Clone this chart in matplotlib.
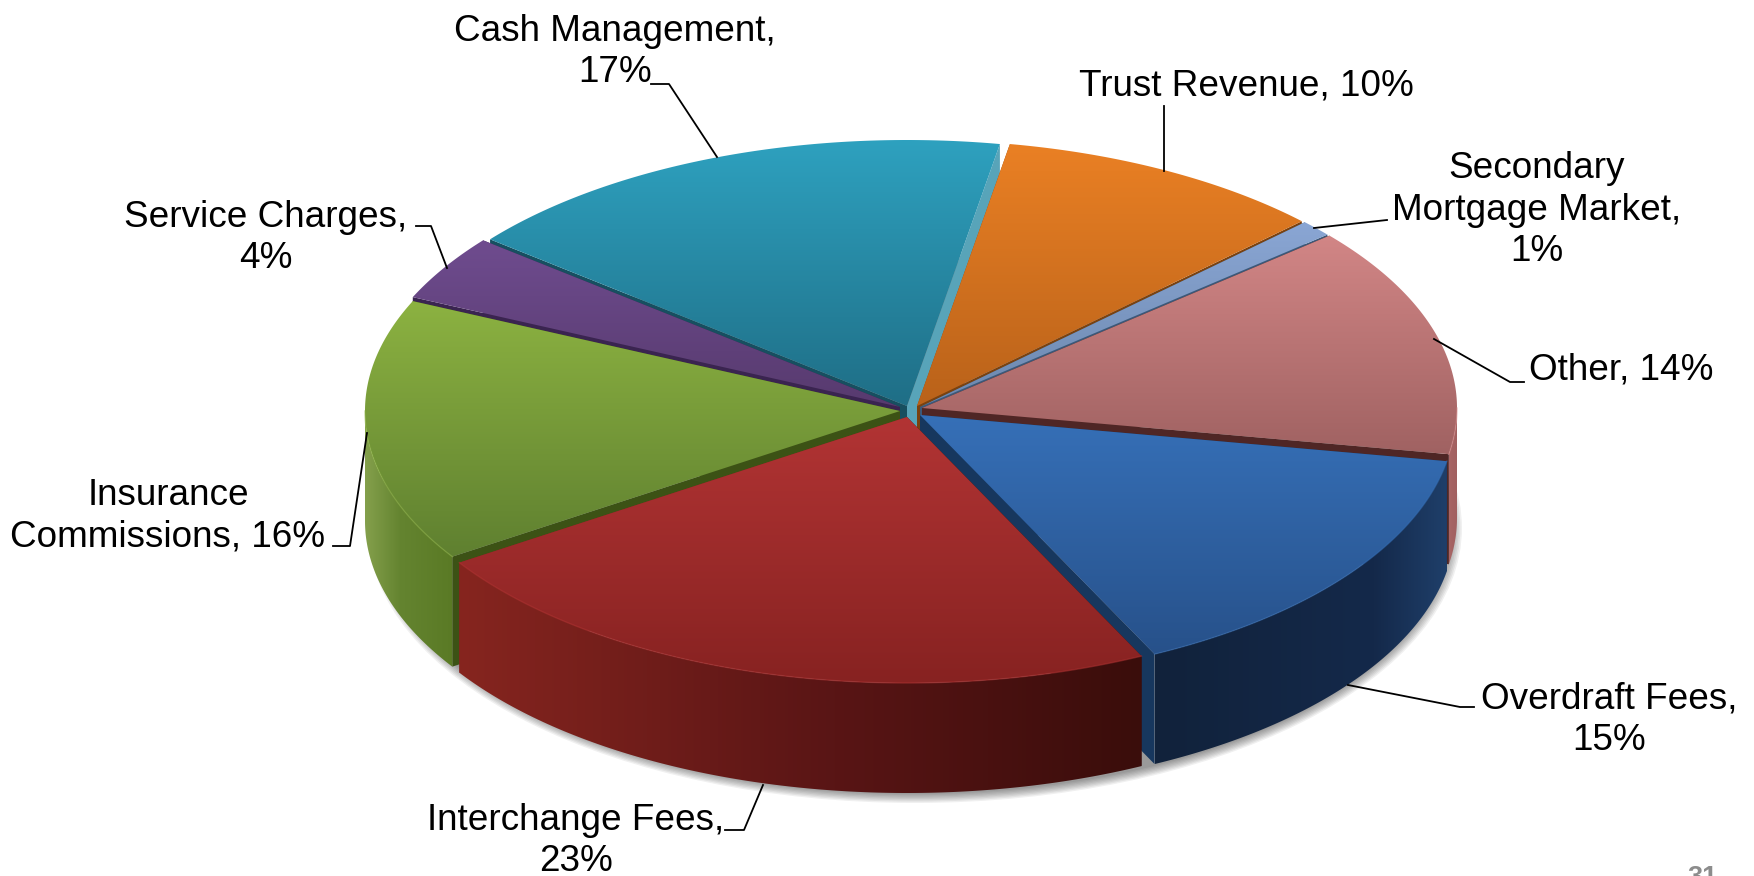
import numpy as np
import matplotlib
matplotlib.use('Agg')
import matplotlib.pyplot as plt
from matplotlib.colors import to_rgb
from matplotlib.patches import Polygon, Ellipse

plt.rcParams['font.family'] = ['Liberation Sans', 'DejaVu Sans']

# data, clockwise from the first cut near the top of the pie
names = ['Trust Revenue', 'Secondary Mortgage Market', 'Other', 'Overdraft Fees',
         'Interchange Fees', 'Insurance Commissions', 'Service Charges', 'Cash Management']
shares = [10, 1, 14, 15, 23, 16, 4, 17]
label_texts = ['Trust Revenue, {}%', 'Secondary\nMortgage Market,\n{}%', 'Other, {}%',
               'Overdraft Fees,\n{}%', 'Interchange Fees,\n{}%',
               'Insurance\nCommissions, {}%', 'Service Charges,\n{}%', 'Cash Management,\n{}%']

# colours: top face gradient, outer side gradient (left, mid, right), start cut, end cut
top_colors = [('#ea8024', '#b9621a'), ('#8aa6d4', '#6c88ae'), ('#d28686', '#a06262'),
              ('#3670b8', '#27518a'), ('#b23434', '#872221'), ('#8cb241', '#5f8030'),
              ('#6f4c8f', '#573a6e'), ('#2ea1bf', '#1f6e86')]
side_colors = [('#b9621a', '#b9621a', '#b9621a'), ('#6c88ae', '#6c88ae', '#6c88ae'),
               ('#a86666', '#a46262', '#a06060'), ('#11223b', '#14294a', '#1f3f6a'),
               ('#86251f', '#591515', '#3a0d0b'), ('#84a04c', '#648430', '#5a7a25'),
               ('#573a6e', '#573a6e', '#573a6e'), ('#1f6e86', '#1f6e86', '#1f6e86')]
side_mid = [0.5, 0.5, 0.5, 0.75, 0.55, 0.4, 0.5, 0.5]
start_walls = ['#8a4a12', '#3c5878', '#4f2625', '#17375e', '#3a0d0b', '#3c5215', '#3a2450', '#174f60']
end_walls = ['#7a4210', '#3c5878', '#4f2625', '#17375e', '#86251f', '#3c5215', '#3a2450', '#58a4b9']

# pie geometry in pixels
A, B, DEPTH = 535, 266, 110
START = 10
apex = [(917, 406), (920, 407), (922, 408), (920, 415), (907, 417), (900, 411), (900, 407), (907, 406)]

leaders = [[(1164, 106), (1164, 171)],
           [(1387, 220), (1314, 228)],
           [(1524, 382), (1510, 382), (1434, 339)],
           [(1474, 707), (1460, 707), (1348, 685)],
           [(725, 830), (744, 830), (763, 785)],
           [(333, 546), (350, 546), (367, 433)],
           [(416, 226), (431, 226), (447, 268)],
           [(651, 84), (669, 84), (717, 157)]]
label_pos = [(1246, 86), (1537, 210), (1621, 370), (1609, 720), (576, 841), (168, 516), (266, 238), (615, 52)]


def rim(c, t):
    t = np.radians(t)
    return np.column_stack([c[0] + A * np.sin(t), c[1] - B * np.cos(t)])


def grad_fill(ax, pts, stops, where, vertical=True, zorder=2):
    # gradient image clipped to the polygon
    poly = Polygon(pts, closed=True, fc='none', ec='none', transform=ax.transData)
    ax.add_patch(poly)
    v = np.linspace(0, 1, 256)
    cols = np.array([to_rgb(s) for s in stops])
    rgb = np.column_stack([np.interp(v, where, cols[:, k]) for k in range(3)])
    img = rgb[:, None, :] if vertical else rgb[None, :, :]
    x0, y0 = pts.min(axis=0)
    x1, y1 = pts.max(axis=0)
    im = ax.imshow(img, extent=(x0, x1, y1, y0), origin='upper', aspect='auto',
                   interpolation='bilinear', zorder=zorder)
    im.set_clip_path(poly)


fig = plt.figure(figsize=(17.54, 8.76), dpi=100)
ax = fig.add_axes([0, 0, 1, 1])

# soft shadow below the pie
for k in range(8):
    ax.add_patch(Ellipse((915, 528), 2 * (A + 12 - k * 1.6), 2 * (B + 9 - k * 1.3),
                         fc='#000000', ec='none', alpha=0.06, zorder=1))

edges = START + np.cumsum([0] + shares) * 3.6
mids = (edges[:-1] + edges[1:]) / 2
order = np.argsort(-np.cos(np.radians(mids)))

z = 2
for i in order:
    c = apex[i]
    t0, t1 = edges[i], edges[i + 1]
    arc = rim(c, np.linspace(t0, t1, 120))

    # cut faces
    for t, col in ((t0, start_walls[i]), (t1, end_walls[i])):
        p = rim(c, [t])[0]
        ax.add_patch(Polygon([c, p, (p[0], p[1] + DEPTH), (c[0], c[1] + DEPTH)],
                             closed=True, fc=col, ec='none', zorder=z))
    z += 1

    # outer side, only the part facing the viewer
    lo, hi = max(t0, 90), min(t1, 270)
    if hi > lo:
        front = rim(c, np.linspace(lo, hi, 120))
        side = np.vstack([front, (front + [0, DEPTH])[::-1]])
        grad_fill(ax, side, side_colors[i], [0, side_mid[i], 1], vertical=False, zorder=z)
        z += 1

    # top face
    top = np.vstack([[c], arc])
    grad_fill(ax, top, top_colors[i], [0, 1], zorder=z)
    z += 1
    if hi > lo:
        ax.plot(*front.T, color=top_colors[i][0], lw=1.0, alpha=0.5, zorder=z)
        z += 1

# leaders and labels
for line in leaders:
    xs, ys = zip(*line)
    ax.plot(xs, ys, color='black', lw=1.3, zorder=z, solid_joinstyle='round')

for txt, s, (x, y) in zip(label_texts, shares, label_pos):
    ax.text(x, y, txt.format(s), fontsize=26.6, ha='center', va='center', color='black',
            linespacing=1.25, multialignment='center', zorder=z + 1)

ax.text(1702, 885, '31', fontsize=19.5, fontweight='bold', color='#8c8c8c', ha='center', va='baseline')

ax.set_xlim(0, 1754)
ax.set_ylim(876, 0)
ax.axis('off')
fig.savefig('out.png', dpi=100, facecolor='white')
